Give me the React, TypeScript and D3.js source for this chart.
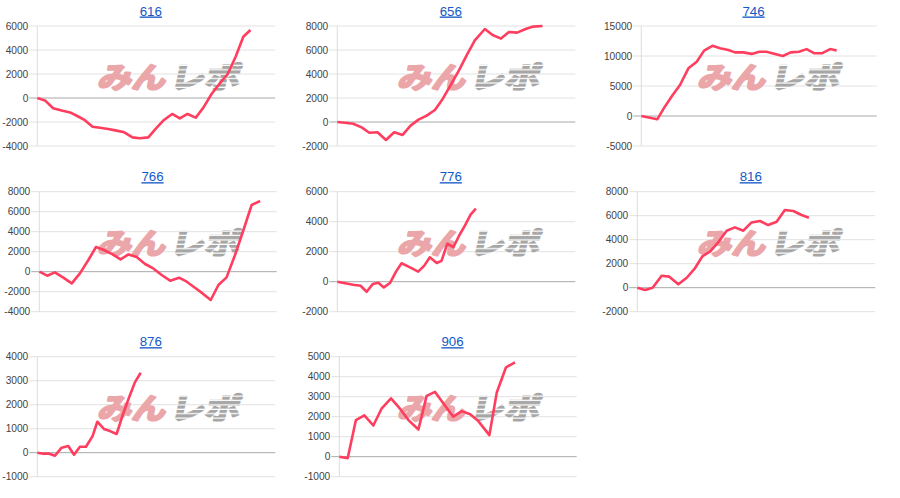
import React from "react";
import * as d3 from "d3";

// ---- data (x = games played, y = coin difference) ----
const titles = ["616", "656", "746", "766", "776", "816", "876", "906"];

const games616 = [0, 290, 600, 920, 1240, 1510, 1800, 2090, 2370, 2680, 3000, 3290, 3600, 3880, 4200, 4490, 4790, 5100, 5390, 5680, 5990, 6280, 6590, 6900, 7200, 7500, 7790, 8060];
const diff616 = [0, -200, -850, -1050, -1200, -1500, -1850, -2400, -2480, -2580, -2720, -2860, -3280, -3360, -3280, -2530, -1830, -1330, -1700, -1330, -1640, -800, 330, 1220, 2000, 3440, 5100, 5670];

const games656 = [0, 290, 600, 920, 1210, 1520, 1840, 2150, 2470, 2770, 3070, 3380, 3690, 3980, 4280, 4600, 4890, 5200, 5580, 5870, 6190, 6490, 6800, 7120, 7410, 7760];
const diff656 = [0, -60, -150, -450, -900, -850, -1500, -850, -1080, -300, 200, 530, 1000, 1900, 3050, 4300, 5550, 6800, 7750, 7250, 6950, 7500, 7450, 7750, 7950, 8000];

const games746 = [0, 610, 900, 1200, 1480, 1800, 2120, 2400, 2720, 3010, 3330, 3580, 3900, 4220, 4510, 4790, 5110, 5410, 5710, 6030, 6320, 6620, 6900, 7220, 7470];
const diff746 = [0, -550, 1550, 3500, 5170, 7950, 9050, 10900, 11700, 11300, 11000, 10600, 10600, 10350, 10700, 10700, 10350, 10000, 10600, 10700, 11150, 10450, 10450, 11150, 10900];

const games766 = [0, 300, 590, 910, 1230, 1540, 1860, 2150, 2450, 2780, 3080, 3380, 3690, 4010, 4320, 4640, 4960, 5300, 5590, 5900, 6190, 6500, 6790, 7100, 7420, 7740, 8050, 8370];
const diff766 = [0, -400, -70, -600, -1170, -170, 1170, 2470, 2170, 1730, 1230, 1730, 1470, 770, 330, -330, -900, -600, -1000, -1600, -2170, -2830, -1330, -570, 1670, 4170, 6670, 7070];

const games776 = [0, 290, 600, 880, 1110, 1340, 1550, 1760, 1990, 2220, 2430, 2750, 3060, 3290, 3500, 3760, 3940, 4160, 4390, 4610, 4830, 5040, 5240];
const diff776 = [0, -100, -200, -270, -670, -160, -70, -380, -90, 670, 1230, 960, 670, 1070, 1630, 1250, 1390, 2530, 2300, 3080, 3750, 4470, 4870];

const games816 = [0, 290, 580, 920, 1210, 1550, 1870, 2160, 2470, 2750, 3060, 3380, 3690, 4010, 4320, 4640, 4950, 5270, 5580, 5900, 6210, 6490];
const diff816 = [0, -190, 0, 1000, 920, 280, 830, 1560, 2640, 3000, 3780, 4750, 5030, 4750, 5440, 5560, 5220, 5500, 6470, 6390, 6060, 5830];

const games876 = [0, 230, 450, 670, 920, 1170, 1390, 1610, 1840, 2090, 2270, 2520, 2750, 3000, 3230, 3480, 3690, 3910];
const diff876 = [0, -40, -40, -125, 210, 280, -85, 250, 250, 690, 1290, 990, 900, 780, 1570, 2330, 2930, 3330];

const games906 = [0, 320, 630, 950, 1290, 1610, 1960, 2300, 2620, 3000, 3310, 3630, 3970, 4320, 4640, 4960, 5270, 5690, 5970, 6320, 6660];
const diff906 = [0, -70, 1830, 2070, 1560, 2420, 2920, 2400, 1830, 1360, 3040, 3240, 2620, 2000, 2280, 2120, 1780, 1080, 3210, 4470, 4720];

const yMin = [-4000, -2000, -5000, -4000, -2000, -2000, -1000, -1000];
const yMax = [6000, 8000, 15000, 8000, 6000, 8000, 4000, 5000];
const yStep = [2000, 2000, 5000, 2000, 2000, 2000, 1000, 1000];
const gamesMax = 9000;

const allGames = [games616, games656, games746, games766, games776, games816, games876, games906];
const allDiff = [diff616, diff656, diff746, diff766, diff776, diff816, diff876, diff906];

// ---- layout ----
const W = 900;
const H = 498;
const colX = [0, 300, 600];
const rowY = [0, 165.7, 330.7];
const plotLeft = [37.3, 37.3, 41.3, 39.3, 37.3, 37.3, 37.3, 39.3];
const plotRight = [275.3, 275.3, 276.7, 276.7, 275.3, 275.3, 275.3, 276.7];
const plotTop = 26;
const plotBottom = 146;

const LINE = "#ff3d5f";
const FONT = "'Liberation Sans', Arial, sans-serif";

function Watermark({ x, y }: { x: number; y: number }) {
  return (
    <g transform={`translate(${x},${y})`}>
      <text
        x={0}
        y={0}
        fontFamily="'Noto Sans CJK JP', sans-serif"
        fontWeight={700}
        fontSize={29}
        fill="#eaa6a8"
        stroke="#eaa6a8"
        strokeWidth={2.2}
        strokeLinejoin="round"
        textLength={68}
        lengthAdjust="spacingAndGlyphs"
        transform="skewX(-12)"
      >
        みん
      </text>
      <text
        x={72}
        y={0}
        fontFamily="'Noto Sans CJK JP', sans-serif"
        fontWeight={700}
        fontSize={29}
        fill="url(#stripes)"
        stroke="url(#stripes)"
        strokeWidth={2.2}
        textLength={70}
        lengthAdjust="spacingAndGlyphs"
        transform="skewX(-12)"
      >
        レポ
      </text>
    </g>
  );
}

function Panel({ i }: { i: number }) {
  const ox = colX[i % 3];
  const oy = rowY[Math.floor(i / 3)];
  const x = d3.scaleLinear().domain([0, gamesMax]).range([ox + plotLeft[i], ox + plotRight[i]]);
  const y = d3.scaleLinear().domain([yMin[i], yMax[i]]).range([oy + plotBottom, oy + plotTop]);
  const ticks = d3.range(yMin[i], yMax[i] + 1, yStep[i]);
  const pts = allGames[i].map((g, k) => [g, allDiff[i][k]] as [number, number]);
  const line = d3
    .line<[number, number]>()
    .x((d) => x(d[0]))
    .y((d) => y(d[1]));
  const x0 = x(0);
  const x1 = x(gamesMax);
  const titleX = (x0 + x1) / 2 - 5.5;
  return (
    <g>
      <text
        x={titleX}
        y={oy + 15.5}
        textAnchor="middle"
        fontFamily={FONT}
        fontSize={13.3}
        fill="#1558c8"
        textDecoration="underline"
      >
        {titles[i]}
      </text>
      {ticks.map((t) => (
        <g key={t}>
          <line
            x1={x0 - 8}
            x2={x1}
            y1={y(t)}
            y2={y(t)}
            stroke={t === 0 ? "#a8a8a8" : "#e2e2e2"}
            strokeWidth={1}
          />
          <text
            x={x0 - 9}
            y={y(t)}
            dy="0.36em"
            textAnchor="end"
            fontFamily={FONT}
            fontSize={10.2}
            fill="#444"
          >
            {t}
          </text>
        </g>
      ))}
      <line x1={x0} x2={x0} y1={y(yMin[i])} y2={y(yMax[i])} stroke="#dcdcdc" strokeWidth={1} />
      <Watermark x={ox + 97} y={oy + 88} />
      <path d={line(pts) || ""} fill="none" stroke={LINE} strokeWidth={2.6} strokeLinejoin="round" />
    </g>
  );
}

export default function App() {
  return (
    <svg
      width={W}
      height={H}
      style={{ position: "absolute", left: 0, top: 0, background: "#fff" }}
    >
      <defs>
        <pattern id="stripes" patternUnits="userSpaceOnUse" width={10} height={4.4}>
          <rect x={0} y={0} width={10} height={3.3} fill="#a6a6a6" />
          <rect x={0} y={3.3} width={10} height={1.1} fill="#ffffff" />
        </pattern>
      </defs>
      <rect x={0} y={0} width={W} height={H} fill="#fff" />
      {titles.map((_, i) => (
        <Panel key={i} i={i} />
      ))}
    </svg>
  );
}
